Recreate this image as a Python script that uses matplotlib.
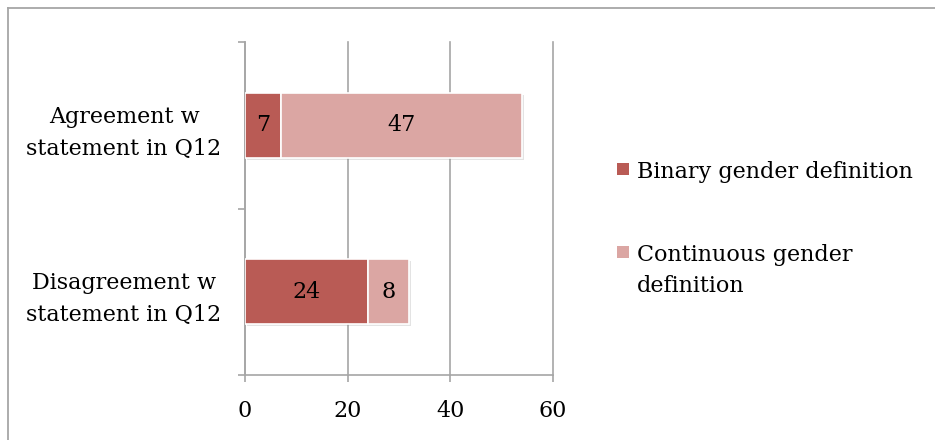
import matplotlib
matplotlib.use("Agg")
import matplotlib.pyplot as plt
import matplotlib.transforms as mtrans
from matplotlib.patches import Rectangle
from matplotlib.lines import Line2D
import matplotlib.patheffects as pe

categories = ["Disagreement w\nstatement in Q12", "Agreement w\nstatement in Q12"]
binary = [24, 7]
continuous = [8, 47]
series_labels = ["Binary gender definition", "Continuous gender\ndefinition"]
colors = ["#B95B55", "#DBA6A3"]
xticks = [0, 20, 40, 60]

FONT = "DejaVu Serif"
FS = 16
GRID = "#A6A6A6"

fig = plt.figure(figsize=(9.35, 4.4), dpi=100)
ax = fig.add_axes([245 / 935, 1 - 375 / 440, (553 - 245) / 935, (375 - 42) / 440])

shadow = [pe.withSimplePatchShadow(offset=(1.5, -1.5), shadow_rgbFace="#909090", alpha=0.25)]
ypos = list(range(len(categories)))
h = 0.39
b1 = ax.barh(ypos, binary, height=h, color=colors[0], edgecolor="white", linewidth=1.2,
             path_effects=shadow, zorder=3)
b2 = ax.barh(ypos, continuous, left=binary, height=h, color=colors[1], edgecolor="white",
             linewidth=1.2, path_effects=shadow, zorder=3)
for bars in (b1, b2):
    ax.bar_label(bars, labels=[str(int(r.get_width())) for r in bars], label_type="center",
                 fontsize=FS, family=FONT, color="black")

ax.set_xlim(xticks[0], xticks[-1])
ax.set_ylim(-0.5, len(categories) - 0.5)
ax.set_xticks(xticks)
ax.set_xticklabels([str(t) for t in xticks], fontsize=FS, family=FONT)
ax.set_yticks(ypos)
ax.set_yticklabels(categories, fontsize=FS, family=FONT, multialignment="center",
                   ha="center", linespacing=1.6)
ax.tick_params(axis="y", which="major", length=0, pad=0)
ax.set_yticks([-0.5, 0.5, 1.5], minor=True)
ax.tick_params(axis="y", which="minor", length=5, width=1.2, color=GRID)
ax.tick_params(axis="x", length=5, width=1.2, color=GRID, pad=13)

ax.grid(axis="x", color=GRID, linewidth=1.2, zorder=0)
for gl in ax.get_xgridlines():
    gl.set_clip_on(False)
for s in ("top", "right"):
    ax.spines[s].set_visible(False)
for s in ("left", "bottom"):
    ax.spines[s].set_color(GRID)
    ax.spines[s].set_linewidth(1.2)

# category labels centred in the left margin
offset = mtrans.ScaledTranslation(-(245 - 124) / 100, 0, fig.dpi_scale_trans)
for lbl in ax.get_yticklabels():
    lbl.set_transform(ax.get_yaxis_transform() + offset)
    lbl.set_x(0)

# legend drawn as squares with text
leg = [(169, series_labels[0], colors[0]), (252, series_labels[1], colors[1])]
for ypx, text, col in leg:
    fig.patches.append(Rectangle((617 / 935, 1 - (ypx + 6) / 440), 12 / 935, 12 / 440,
                                 transform=fig.transFigure, facecolor=col, edgecolor="none"))
    fig.text(637 / 935, 1 - (ypx - 8) / 440, text, fontsize=FS, family=FONT,
             va="top", ha="left", linespacing=1.55)

# outer chart frame
fig.add_artist(Line2D([8 / 935, 1], [1 - 8 / 440] * 2, color=GRID, linewidth=1.3,
                      transform=fig.transFigure))
fig.add_artist(Line2D([8 / 935] * 2, [0, 1 - 8 / 440], color=GRID, linewidth=1.3,
                      transform=fig.transFigure))

fig.savefig("out.png", dpi=100)
